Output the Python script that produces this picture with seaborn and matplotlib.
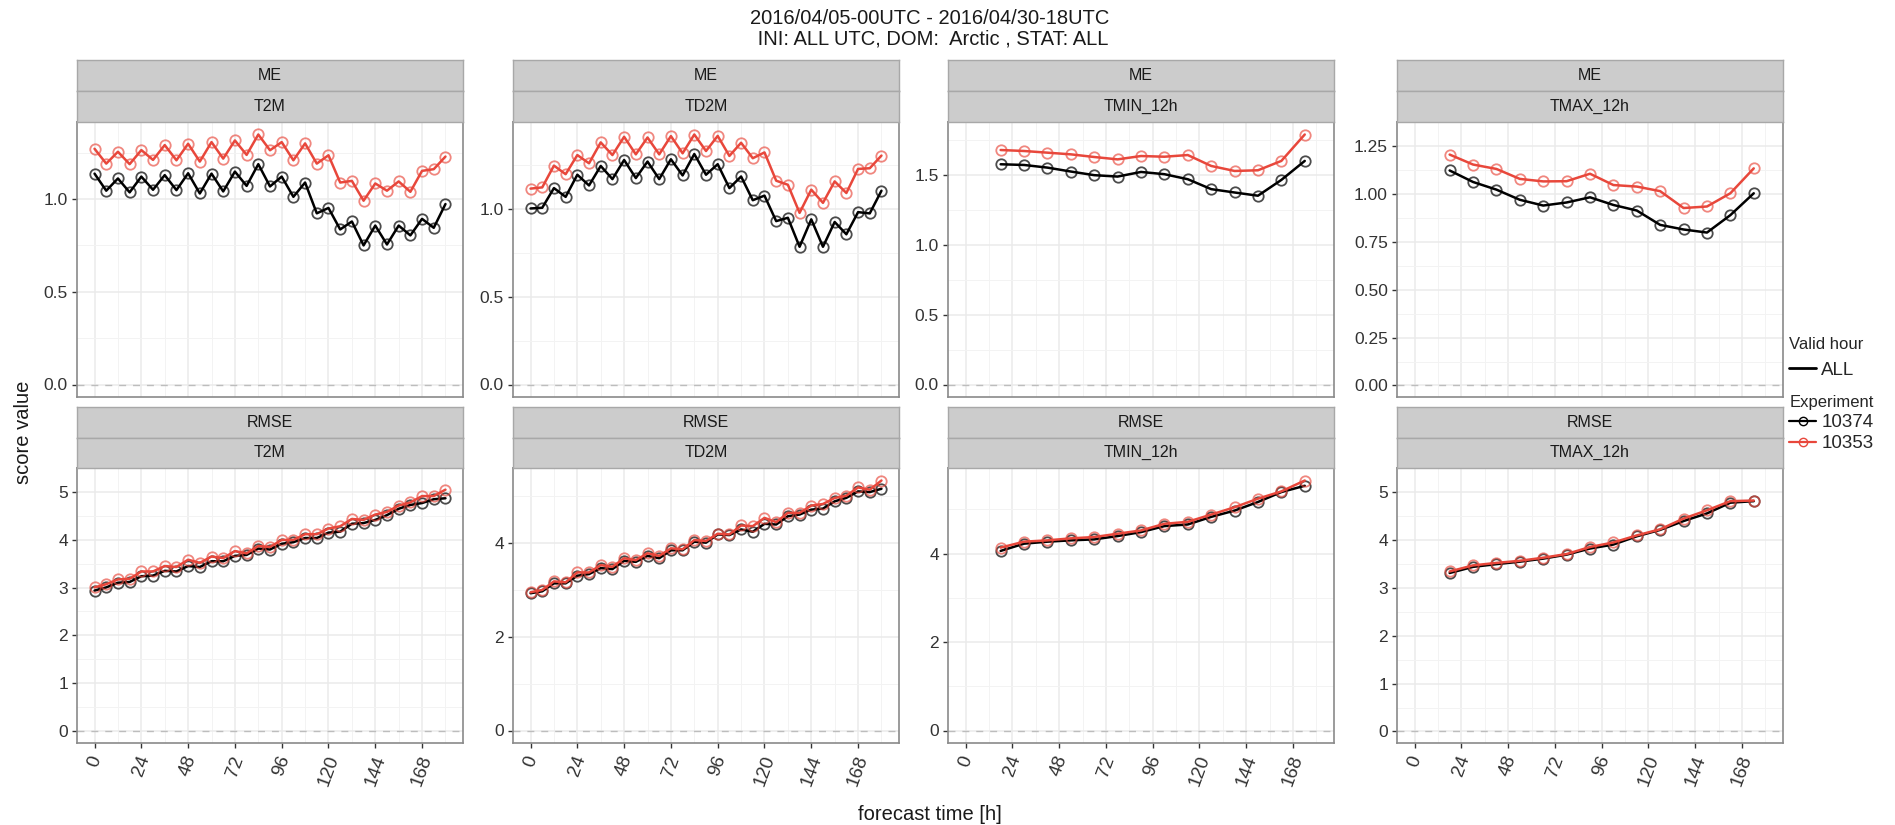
import numpy as np
import pandas as pd
import matplotlib
matplotlib.use("Agg")
import matplotlib.pyplot as plt
from matplotlib.lines import Line2D
from matplotlib.transforms import Bbox
import seaborn as sns

# ---------------- data ----------------
fc_6h = list(range(0, 181, 6))
fc_12h = list(range(18, 175, 12))

experiments = ["10374", "10353"]
params = ["T2M", "TD2M", "TMIN_12h", "TMAX_12h"]
scores = ["ME", "RMSE"]

me_t2m_10374 = [1.137, 1.045, 1.111, 1.036, 1.121, 1.050, 1.129, 1.048, 1.139, 1.030, 1.137,
                1.041, 1.148, 1.071, 1.188, 1.068, 1.121, 1.012, 1.089, 0.923, 0.952, 0.836,
                0.879, 0.750, 0.857, 0.755, 0.857, 0.804, 0.893, 0.845, 0.973]
me_t2m_10353 = [1.271, 1.191, 1.255, 1.188, 1.264, 1.211, 1.291, 1.209, 1.298, 1.202, 1.307,
                1.218, 1.316, 1.238, 1.348, 1.263, 1.307, 1.209, 1.300, 1.191, 1.236, 1.089,
                1.098, 0.991, 1.084, 1.045, 1.095, 1.039, 1.152, 1.161, 1.229]
me_td2m_10374 = [1.002, 1.006, 1.118, 1.068, 1.194, 1.133, 1.244, 1.169, 1.278, 1.175, 1.269,
                 1.169, 1.282, 1.190, 1.312, 1.194, 1.254, 1.118, 1.184, 1.049, 1.075, 0.930,
                 0.949, 0.784, 0.940, 0.784, 0.925, 0.855, 0.981, 0.974, 1.103]
me_td2m_10353 = [1.115, 1.122, 1.246, 1.197, 1.306, 1.259, 1.378, 1.306, 1.410, 1.310, 1.406,
                 1.310, 1.414, 1.316, 1.423, 1.329, 1.415, 1.301, 1.376, 1.288, 1.321, 1.160,
                 1.137, 0.977, 1.109, 1.034, 1.156, 1.090, 1.227, 1.231, 1.303]
me_tmin_10374 = [1.576, 1.571, 1.552, 1.524, 1.498, 1.488, 1.521, 1.505, 1.469, 1.398, 1.374,
                 1.351, 1.464, 1.600]
me_tmin_10353 = [1.678, 1.671, 1.659, 1.647, 1.628, 1.611, 1.635, 1.630, 1.642, 1.564, 1.528,
                 1.533, 1.600, 1.789]
me_tmax_10374 = [1.122, 1.062, 1.022, 0.969, 0.939, 0.955, 0.982, 0.942, 0.913, 0.838, 0.814,
                 0.798, 0.889, 1.003]
me_tmax_10353 = [1.205, 1.153, 1.130, 1.078, 1.065, 1.066, 1.105, 1.046, 1.038, 1.014, 0.926,
                 0.934, 1.003, 1.133]

rmse_t2m_10374 = [2.936, 3.003, 3.100, 3.116, 3.236, 3.249, 3.349, 3.336, 3.449, 3.429, 3.549,
                  3.549, 3.662, 3.682, 3.815, 3.795, 3.915, 3.948, 4.035, 4.035, 4.148, 4.168,
                  4.334, 4.348, 4.414, 4.514, 4.647, 4.727, 4.767, 4.847, 4.867]
rmse_t2m_10353 = [3.003, 3.069, 3.169, 3.182, 3.336, 3.336, 3.449, 3.429, 3.582, 3.515, 3.648,
                  3.615, 3.762, 3.715, 3.868, 3.848, 3.995, 3.995, 4.115, 4.115, 4.234, 4.281,
                  4.434, 4.414, 4.527, 4.581, 4.714, 4.780, 4.913, 4.913, 5.047]
rmse_td2m_10374 = [2.923, 2.965, 3.134, 3.134, 3.296, 3.331, 3.458, 3.437, 3.613, 3.592, 3.718,
                   3.669, 3.838, 3.838, 4.021, 4.000, 4.176, 4.162, 4.282, 4.232, 4.401, 4.387,
                   4.563, 4.599, 4.704, 4.725, 4.880, 4.955, 5.092, 5.077, 5.148]
rmse_td2m_10353 = [2.944, 2.993, 3.176, 3.155, 3.366, 3.366, 3.521, 3.486, 3.669, 3.627, 3.775,
                   3.718, 3.880, 3.859, 4.056, 4.035, 4.190, 4.176, 4.366, 4.352, 4.528, 4.437,
                   4.634, 4.634, 4.789, 4.824, 4.951, 5.000, 5.176, 5.127, 5.324]
rmse_tmin_10374 = [4.060, 4.224, 4.269, 4.299, 4.321, 4.396, 4.486, 4.621, 4.658, 4.830, 4.972,
                   5.166, 5.391, 5.533]
rmse_tmin_10353 = [4.135, 4.269, 4.299, 4.344, 4.374, 4.449, 4.523, 4.673, 4.718, 4.882, 5.047,
                   5.241, 5.406, 5.652]
rmse_tmax_10374 = [3.308, 3.436, 3.493, 3.544, 3.608, 3.691, 3.819, 3.902, 4.074, 4.208, 4.393,
                   4.552, 4.776, 4.808]
rmse_tmax_10353 = [3.340, 3.467, 3.519, 3.563, 3.627, 3.704, 3.851, 3.946, 4.093, 4.221, 4.444,
                   4.617, 4.808, 4.821]

x_ticks = [0, 24, 48, 72, 96, 120, 144, 168]
y_ticks = {
    ("ME", "T2M"): [0.0, 0.5, 1.0],
    ("ME", "TD2M"): [0.0, 0.5, 1.0],
    ("ME", "TMIN_12h"): [0.0, 0.5, 1.0, 1.5],
    ("ME", "TMAX_12h"): [0.0, 0.25, 0.5, 0.75, 1.0, 1.25],
    ("RMSE", "T2M"): [0, 1, 2, 3, 4, 5],
    ("RMSE", "TD2M"): [0, 2, 4],
    ("RMSE", "TMIN_12h"): [0, 2, 4],
    ("RMSE", "TMAX_12h"): [0, 1, 2, 3, 4, 5],
}
y_fmt = {"ME": {"TMAX_12h": "{:.2f}"}, "RMSE": {}}

series = {
    ("ME", "T2M"): (fc_6h, me_t2m_10374, me_t2m_10353),
    ("ME", "TD2M"): (fc_6h, me_td2m_10374, me_td2m_10353),
    ("ME", "TMIN_12h"): (fc_12h, me_tmin_10374, me_tmin_10353),
    ("ME", "TMAX_12h"): (fc_12h, me_tmax_10374, me_tmax_10353),
    ("RMSE", "T2M"): (fc_6h, rmse_t2m_10374, rmse_t2m_10353),
    ("RMSE", "TD2M"): (fc_6h, rmse_td2m_10374, rmse_td2m_10353),
    ("RMSE", "TMIN_12h"): (fc_12h, rmse_tmin_10374, rmse_tmin_10353),
    ("RMSE", "TMAX_12h"): (fc_12h, rmse_tmax_10374, rmse_tmax_10353),
}

rows = []
for (sc, par), (fcs, a, b) in series.items():
    for e, vals in zip(experiments, (a, b)):
        for f, v in zip(fcs, vals):
            rows.append((sc, par, e, f, v))
df = pd.DataFrame(rows, columns=["score", "param", "exp", "fc", "value"])

# ---------------- style ----------------
sns.set_theme(style="white")
plt.rcParams["font.family"] = ["Liberation Sans", "DejaVu Sans"]

colors = {"10374": "#000000", "10353": "#E8473B"}
mec = {"10374": (0, 0, 0, 0.7), "10353": (0.91, 0.28, 0.23, 0.65)}

W, H = 1895, 825
fig = plt.figure(figsize=(W / 100, H / 100), dpi=100)

def rect(x0, y0, x1, y1):
    return [x0 / W, 1 - y1 / H, (x1 - x0) / W, (y1 - y0) / H]

col_x = [(77, 463), (513, 899), (948, 1334), (1397, 1783)]
row_y = {"ME": (122, 397), "RMSE": (468, 743)}
strip_y = {"ME": [(60, 91), (91, 122)], "RMSE": [(407, 437.5), (437.5, 468)]}

bottom_axes = []
for sc in scores:
    for ci, par in enumerate(params):
        x0, x1 = col_x[ci]
        y0, y1 = row_y[sc]
        ax = fig.add_axes(rect(x0, y0, x1, y1))
        ax.set_facecolor("white")
        sub = df[(df.score == sc) & (df.param == par)]
        for e in experiments:
            sns.lineplot(data=sub[sub.exp == e], x="fc", y="value", color=colors[e],
                         marker="o", markersize=7.5, markerfacecolor="none",
                         markeredgecolor=mec[e], markeredgewidth=1.3, linewidth=1.8,
                         ax=ax, legend=False, zorder=3)
        ax.axhline(0, color="#BDBDBD", lw=1.0, ls=(0, (5, 5)), zorder=2)
        vmin = min(0.0, sub.value.min())
        vmax = sub.value.max()
        r = vmax - vmin
        ax.set_ylim(vmin - 0.05 * r, vmax + 0.05 * r)
        ax.set_xlim(-9, 189)
        ax.set_xticks(x_ticks)
        ax.set_xticks([12 + 24 * k for k in range(8)], minor=True)
        yt = y_ticks[(sc, par)]
        ax.set_yticks(yt)
        step = yt[1] - yt[0]
        ax.set_yticks([t + step / 2 for t in yt], minor=True)
        fmt = y_fmt[sc].get(par, "{:.1f}" if sc == "ME" else "{:d}")
        ax.set_yticklabels([fmt.format(t) for t in yt], fontsize=12.5, color="#333333")
        ax.grid(which="major", color="#EBEBEB", lw=1.1)
        ax.grid(which="minor", color="#F3F3F3", lw=0.7)
        ax.set_axisbelow(True)
        ax.set_xlabel("")
        ax.set_ylabel("")
        ax.tick_params(axis="y", which="major", length=3.5, width=1, color="#333333",
                       left=True, pad=3)
        ax.tick_params(which="minor", length=0)
        if sc == "ME":
            ax.tick_params(axis="x", which="major", length=0, labelbottom=False)
        else:
            ax.tick_params(axis="x", which="major", length=3.5, width=1, color="#333333",
                           bottom=True, pad=4)
            ax.set_xticklabels([str(t) for t in x_ticks], rotation=70, ha="center",
                               va="top", fontsize=13.5, color="#333333")
            bottom_axes.append(ax)
        for s in ax.spines.values():
            s.set_color("#8A8A8A")
            s.set_linewidth(1.2)
        # strips
        labels = [sc, par]
        for (sy0, sy1), lab in zip(strip_y[sc], labels):
            sax = fig.add_axes(rect(x0, sy0, x1, sy1))
            sax.set_facecolor("#CCCCCC")
            sax.set_xticks([])
            sax.set_yticks([])
            for s in sax.spines.values():
                s.set_color("#A8A8A8")
                s.set_linewidth(1.0)
            sax.text(0.5, 0.5, lab, ha="center", va="center", fontsize=11.5,
                     color="#1A1A1A", transform=sax.transAxes)

# titles and axis labels
fig.text(930 / W, 1 - 18 / H, "2016/04/05-00UTC - 2016/04/30-18UTC", ha="center",
         va="center", fontsize=14.5, color="#1A1A1A")
fig.text(930 / W, 1 - 39 / H, " INI: ALL UTC, DOM:  Arctic , STAT: ALL", ha="center",
         va="center", fontsize=14.5, color="#1A1A1A")
fig.text(930 / W, 1 - 814 / H, "forecast time [h]", ha="center", va="center",
         fontsize=14.5, color="#1A1A1A")
fig.text(24 / W, 1 - 432 / H, "score value", ha="center", va="center",
         rotation=90, fontsize=14.5, color="#1A1A1A")

# legends
h1 = [Line2D([], [], color="black", lw=2)]
leg1 = fig.legend(h1, ["ALL"], title="Valid hour", loc="upper left",
                  bbox_to_anchor=(1780 / W, 1 - 328 / H), frameon=False,
                  alignment="left", handlelength=1.4, fontsize=13.5, title_fontsize=12,
                  borderpad=0, handletextpad=0.3)
h2 = [Line2D([], [], color=colors[e], lw=1.6, marker="o", markersize=6,
             markerfacecolor="none", markeredgecolor=colors[e]) for e in experiments]
leg2 = fig.legend(h2, experiments, title="Experiment", loc="upper left",
                  bbox_to_anchor=(1780 / W, 1 - 386 / H), frameon=False,
                  alignment="left", handlelength=1.4, fontsize=13.5, title_fontsize=12,
                  borderpad=0, handletextpad=0.3, labelspacing=0.2)

# the rotated x tick labels are cut off near the bottom in the original
fig.canvas.draw()
clip_box = Bbox.from_extents(0, H - 788, W, H)
for ax in bottom_axes:
    for t in ax.xaxis.get_majorticklabels():
        t.set_clip_box(clip_box)
        t.set_clip_on(True)

fig.savefig("out.png", dpi=100, facecolor="white")
